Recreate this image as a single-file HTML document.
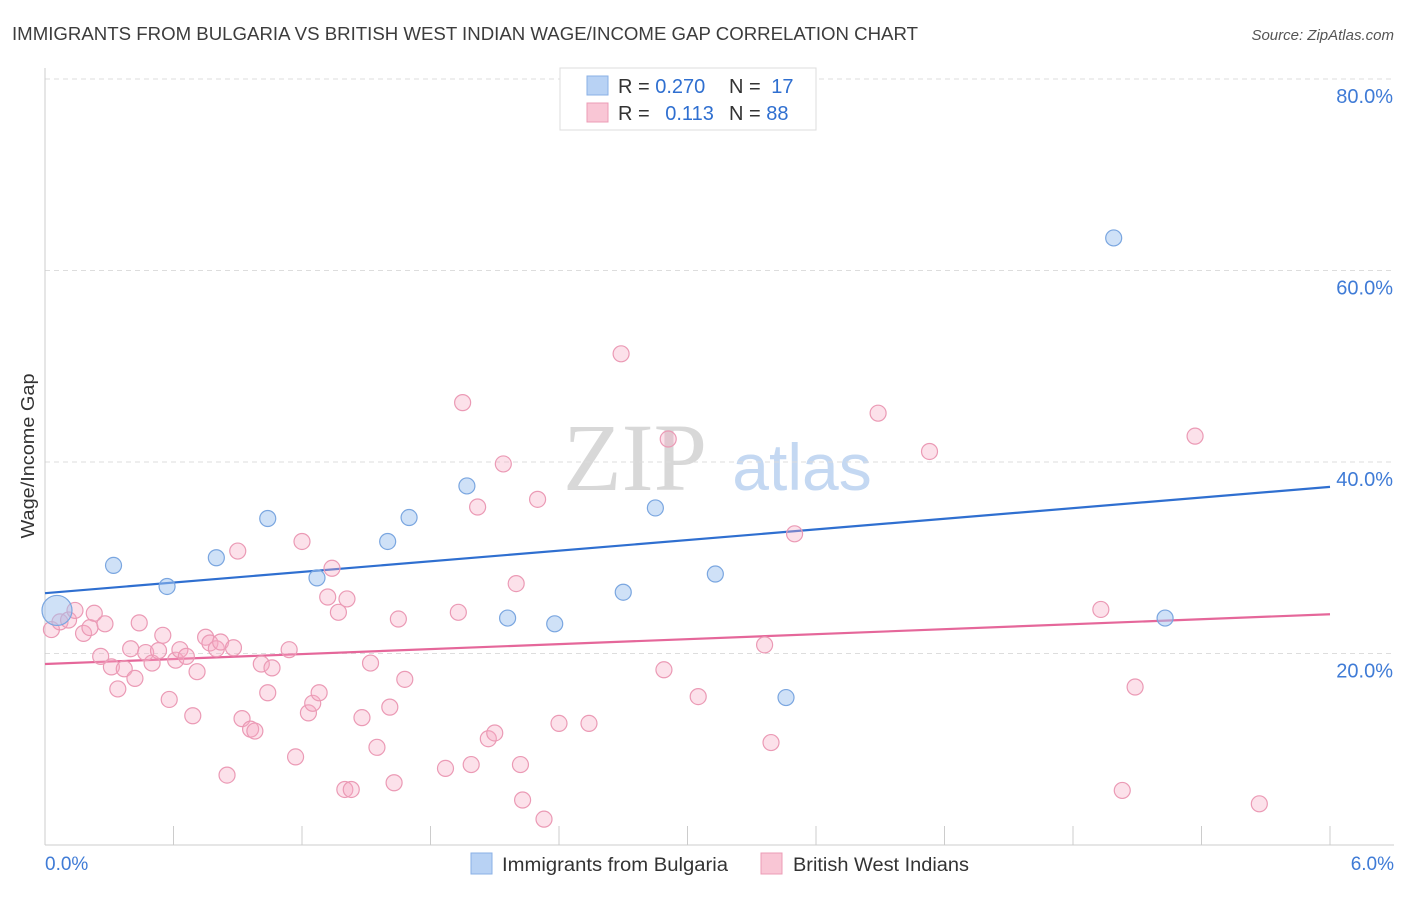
<!DOCTYPE html>
<html><head><meta charset="utf-8"><style>
body{margin:0;background:#fff;font-family:"Liberation Sans",sans-serif;}
svg text{font-family:"Liberation Sans",sans-serif;}
</style></head><body>
<svg id="chart" width="1406" height="892" viewBox="0 0 1406 892">
<text x="12" y="40" font-size="18" textLength="906" lengthAdjust="spacingAndGlyphs" fill="#3c3c3c">IMMIGRANTS FROM BULGARIA VS BRITISH WEST INDIAN WAGE/INCOME GAP CORRELATION CHART</text>
<text x="1394" y="40" font-size="15" fill="#555" font-style="italic" text-anchor="end">Source: ZipAtlas.com</text>
<text transform="translate(34,456) rotate(-90)" font-size="18" textLength="165" lengthAdjust="spacingAndGlyphs" fill="#333" text-anchor="middle">Wage/Income Gap</text>
<g><text x="635" y="490" font-size="96" fill="#d8d8d8" text-anchor="middle" style="font-family:'Liberation Serif',serif">ZIP</text><text x="802" y="490" font-size="66" fill="#c4d8f2" text-anchor="middle">atlas</text></g>
<g id="grid"></g><g id="axes"></g><g id="trend"></g><g id="pts"></g>
<g>
<rect x="560" y="68" width="256" height="62" fill="#fff" stroke="#ddd"/>
<rect x="587" y="76" width="21" height="19" fill="#b8d2f4" stroke="#8ab0e6"/>
<rect x="587" y="103" width="21" height="19" fill="#f9c6d5" stroke="#ec9cb6"/>
<text x="618" y="93" font-size="20" fill="#333">R = <tspan fill="#2f6fd0">0.270</tspan></text>
<text x="729" y="93" font-size="20" fill="#333">N = <tspan fill="#2f6fd0" dx="5">17</tspan></text>
<text x="618" y="120" font-size="20" fill="#333">R = <tspan fill="#2f6fd0" dx="10">0.113</tspan></text>
<text x="729" y="120" font-size="20" fill="#333">N = <tspan fill="#2f6fd0">88</tspan></text>
</g>
<g>
<rect x="471" y="853" width="21" height="21" fill="#b8d2f4" stroke="#8ab0e6"/>
<text x="502" y="871" font-size="19" textLength="226" lengthAdjust="spacingAndGlyphs" fill="#333">Immigrants from Bulgaria</text>
<rect x="761" y="853" width="21" height="21" fill="#f9c6d5" stroke="#ec9cb6"/>
<text x="793" y="871" font-size="19" textLength="176" lengthAdjust="spacingAndGlyphs" fill="#333">British West Indians</text>
</g>
</svg>
<script>
const xTicksLabels=["0.0%","6.0%"];
const yTickValues=[20,40,60,80];
const blueX=[0.056,0.32,0.57,0.80,1.04,1.27,1.60,1.70,1.97,2.16,2.38,2.70,2.85,3.13,3.46,4.99,5.23];
const blueY=[24.5,29.2,27.0,30.0,34.1,27.9,31.7,34.2,37.5,23.7,23.1,26.4,35.2,28.3,15.4,63.4,23.7];
const pinkX=[0.03,0.07,0.11,0.14,0.18,0.21,0.23,0.26,0.28,0.31,0.34,0.37,0.40,0.42,0.44,0.47,0.50,0.53,0.55,0.58,0.61,0.63,0.66,0.69,0.71,0.75,0.77,0.80,0.82,0.85,0.88,0.90,0.92,0.96,0.98,1.01,1.04,1.06,1.14,1.17,1.20,1.23,1.25,1.28,1.32,1.34,1.37,1.40,1.41,1.43,1.48,1.52,1.55,1.61,1.63,1.65,1.68,1.87,1.93,1.95,1.99,2.02,2.07,2.10,2.14,2.20,2.22,2.23,2.30,2.33,2.40,2.54,2.69,2.89,2.91,3.05,3.36,3.39,3.50,3.89,4.13,4.93,5.03,5.09,5.37,5.67];
const pinkY=[22.5,23.3,23.5,24.5,22.1,22.7,24.2,19.7,23.1,18.6,16.3,18.4,20.5,17.4,23.2,20.1,19.0,20.3,21.9,15.2,19.3,20.4,19.7,13.5,18.1,21.7,21.1,20.5,21.2,7.3,20.6,30.7,13.2,12.1,11.9,18.9,15.9,18.5,20.4,9.2,31.7,13.8,14.8,15.9,25.9,28.9,24.3,5.8,25.7,5.8,13.3,19.0,10.2,14.4,6.5,23.6,17.3,8.0,24.3,46.2,8.4,35.3,11.1,11.7,39.8,27.3,8.4,4.7,36.1,2.7,12.7,12.7,51.3,18.3,42.4,15.5,20.9,10.7,32.5,45.1,41.1,24.6,5.7,16.5,42.7,4.3];
const blueTrend=[26.3,37.4];
const pinkTrend=[18.9,24.1];
const NS="http://www.w3.org/2000/svg";
const X=v=>45+v/6*1285, Y=v=>845-v*9.575;
function mk(p,t,a){const e=document.createElementNS(NS,t);for(const k in a)e.setAttribute(k,a[k]);document.getElementById(p).appendChild(e);return e;}
yTickValues.forEach(v=>{
 const g=mk('grid','line',{x1:45,x2:1394,y1:Y(v),y2:Y(v),stroke:'#ddd','stroke-dasharray':'5,4'});
 
 
 const t=mk('grid','text',{x:1393,y:Y(v)+24,'font-size':20,fill:'#3f7bd6','text-anchor':'end'});
 t.textContent=v.toFixed(1)+'%';
 
 
});
mk('axes','line',{x1:45,x2:45,y1:68,y2:845,stroke:'#ccc'});
mk('axes','line',{x1:45,x2:1394,y1:845,y2:845,stroke:'#ccc'});
for(let i=0;i<=10;i++){const l=mk('axes','line',{x1:X(i*0.6),x2:X(i*0.6),y1:826,y2:845,stroke:'#ccc'});
 
 }
[[0,'start',45],[6,'end',1394]].forEach((d,i)=>{const t=mk('axes','text',{x:d[2],y:870,'font-size':19,fill:'#3f7bd6','text-anchor':d[1]});t.textContent=xTicksLabels[i];
 
 });
[[blueTrend,'#2f6fd0','blue-trend-line'],[pinkTrend,'#e5679a','pink-trend-line']].forEach(d=>{
 const l=mk('trend','line',{x1:X(0),y1:Y(d[0][0]),x2:X(6),y2:Y(d[0][1]),stroke:d[1],'stroke-width':2.2});
 
 
});
pinkX.forEach((x,i)=>{const c=mk('pts','circle',{cx:X(x),cy:Y(pinkY[i]),r:8,fill:'rgba(246,170,195,0.35)',stroke:'#eb9ab5','stroke-width':1.2});
 
 });
blueX.forEach((x,i)=>{const c=mk('pts','circle',{cx:X(x),cy:Y(blueY[i]),r:i==0?15:8,fill:'rgba(160,195,240,0.5)',stroke:'#7aa6e0','stroke-width':1.2});
 
 });
</script>
</body></html>
